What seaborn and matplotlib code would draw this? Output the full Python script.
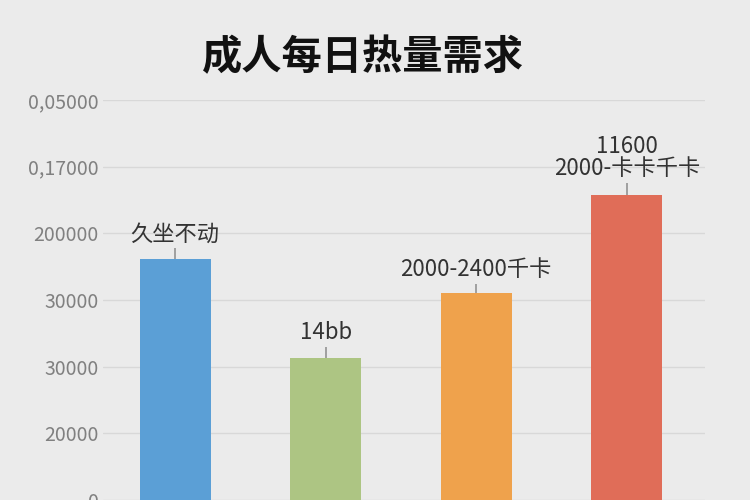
"""
Adult daily calorie demand bar chart (recreated with seaborn).
"""

import matplotlib
matplotlib.use("Agg")
import matplotlib.pyplot as plt
import seaborn as sns
import pandas as pd

# data
categories = ["久坐不动", "轻度活动", "中度活动", "高度活动"]
values = [1806, 1067, 1552, 2291]
upper_err = [82, 82, 67, 90]
bar_labels = ["久坐不动", "14bb", "2000-2400千卡", "11600\n2000-卡卡千卡"]
bar_colors = ["#5B9FD6", "#ADC583", "#EFA24C", "#E06D58"]
y_ticks = [0, 500, 1000, 1500, 2000, 2500, 3000]
y_tick_labels = ["0", "20000", "30000", "30000", "200000", "0,17000", "0,05000"]

sns.set_theme(style="whitegrid")
plt.rcParams["font.family"] = ["Noto Sans CJK SC", "DejaVu Sans"]

bg = "#EBEBEB"
fig = plt.figure(figsize=(7.5, 5), dpi=100, facecolor=bg)
ax = fig.add_axes([103 / 750, 0.0, (705 - 103) / 750, 0.8])
ax.set_facecolor(bg)

df = pd.DataFrame({"category": categories, "value": values})
sns.barplot(data=df, x="category", y="value", hue="category",
            palette=bar_colors, saturation=1, width=0.47, legend=False,
            ax=ax, edgecolor="none", errorbar=None)

# whiskers only point upward
ax.errorbar(range(len(values)), values,
            yerr=[[0] * len(values), upper_err],
            fmt="none", ecolor="#9A9A9A", elinewidth=1.3, capsize=0)

for i, (v, e, lab) in enumerate(zip(values, upper_err, bar_labels)):
    ax.annotate(lab, (i, v + e), xytext=(0, 2), textcoords="offset points",
                ha="center", va="bottom", fontsize=16, color="#333333",
                linespacing=0.95)

ax.set_xlim(-0.48, 3.52)
ax.set_ylim(0, 3000)
ax.set_yticks(y_ticks)
ax.set_yticklabels(y_tick_labels, color="#808080", fontsize=14)
ax.tick_params(axis="y", pad=3, length=0)
ax.set_xticks([])
ax.set_xlabel("")
ax.set_ylabel("")
ax.grid(axis="y", color="#D8D8D8", linewidth=1)
ax.grid(axis="x", visible=False)
ax.set_axisbelow(True)
for s in ax.spines.values():
    s.set_visible(False)

fig.text(0.484, 0.885, "成人每日热量需求", ha="center", va="center",
         fontsize=29, fontweight="bold", color="#111111")

fig.savefig("out.png", dpi=100, facecolor=bg)
